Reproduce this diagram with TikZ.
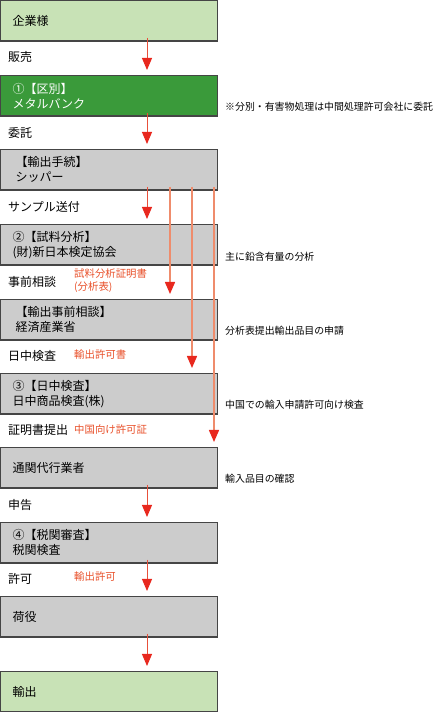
\documentclass[tikz,border=0pt]{standalone}
\usepackage{fontspec}
\setmainfont{Noto Sans CJK JP}
\usetikzlibrary{arrows.meta,calc}
\definecolor{lgreen}{HTML}{C8E2B6}
\definecolor{dgreen}{HTML}{3A9A3A}
\definecolor{boxgray}{HTML}{CCCCCC}
\definecolor{edge}{HTML}{454545}
\definecolor{arrowred}{HTML}{E8281E}
\definecolor{mainred}{HTML}{E8503A}
\definecolor{lineorange}{HTML}{EF8C6C}
\definecolor{labelred}{HTML}{E8502A}
\begin{document}
\begin{tikzpicture}[x=1pt,y=1pt,
  flowbox/.style={draw=edge, line width=1.1pt, fill=boxgray, anchor=north west,
    minimum height=40.5pt, inner xsep=12pt, inner ysep=0pt, text width=193pt,
    align=left, font=\fontsize{12}{15}\selectfont, text=black},
  widebox/.style={flowbox, inner xsep=15pt, text width=187pt},
  leftlabel/.style={anchor=west, inner sep=0pt, font=\fontsize{12}{14}\selectfont},
  redlabel/.style={anchor=west, inner sep=0pt, align=left, text=labelred, font=\fontsize{10.4}{13}\selectfont},
  note/.style={anchor=west, inner sep=0pt, font=\fontsize{9.9}{12}\selectfont},
  mainline/.style={draw=mainred, line width=0.9pt, -{Triangle[width=10pt,length=12pt,color=arrowred]}},
  longline/.style={draw=lineorange, line width=1.5pt, -{Triangle[width=10pt,length=12pt,color=arrowred]}}
]
\useasboundingbox (0,0) rectangle (434,712);

% boxes
\node[flowbox, fill=lgreen] (b1) at (0,712) {企業様};
\node[flowbox, fill=dgreen, text=white] (b2) at (0,637) {①【区別】\\メタルバンク};
\node[widebox] (b3) at (0,563) {【輸出手続】\\シッパー};
\node[flowbox] (b4) at (0,488) {②【試料分析】\\(財)新日本検定協会};
\node[widebox] (b5) at (0,413) {【輸出事前相談】\\経済産業省};
\node[flowbox] (b6) at (0,339) {③【日中検査】\\日中商品検査(株)};
\node[flowbox] (b7) at (0,265) {通関代行業者};
\node[flowbox] (b8) at (0,190) {④【税関審査】\\税関検査};
\node[flowbox] (b9) at (0,116) {荷役};
\node[flowbox, fill=lgreen] (b10) at (0,41) {輸出};

% left labels
\node[leftlabel] (l1) at (8,655) {販売};
\node[leftlabel] (l2) at (8,579) {委託};
\node[leftlabel] (l3) at (8,505) {サンプル送付};
\node[leftlabel] (l4) at (8,430) {事前相談};
\node[leftlabel] (l5) at (8,356) {日中検査};
\node[leftlabel] (l6) at (8,282) {証明書提出};
\node[leftlabel] (l7) at (8,207) {申告};
\node[leftlabel] (l8) at (8,133) {許可};

% red labels
\node[redlabel] (r1) at (74,431.5) {試料分析証明書\\(分析表)};
\node[redlabel] (r2) at (74,357) {輸出許可書};
\node[redlabel] (r3) at (74,282) {中国向け許可証};
\node[redlabel] (r4) at (74,135) {輸出許可};

% notes
\node[note] (n1) at (225,605) {※分別・有害物処理は中間処理許可会社に委託};
\node[note] (n2) at (225,455) {主に鉛含有量の分析};
\node[note] (n3) at (225,381) {分析表提出輸出品目の申請};
\node[note] (n4) at (225,307) {中国での輸入申請許可向け検査};
\node[note] (n5) at (225,233) {輸入品目の確認};

% main arrows
\draw[mainline] ($(b1.south west)+(147,4)$) -- ($(b2.north west)+(147,5)$);
\draw[mainline] ($(b2.south west)+(147,4)$) -- ($(b3.north west)+(147,5)$);
\draw[mainline] ($(b3.south west)+(147,4)$) -- ($(b4.north west)+(147,5)$);
\draw[mainline] ($(b7.south west)+(147,4)$) -- ($(b8.north west)+(147,5)$);
\draw[mainline] ($(b8.south west)+(147,4)$) -- ($(b9.north west)+(147,5)$);
\draw[mainline] ($(b9.south west)+(147,4)$) -- ($(b10.north west)+(147,5)$);

% long arrows from the shipper
\draw[longline] ($(b3.south west)+(170,4)$) -- ($(b5.north west)+(170,5)$);
\draw[longline] ($(b3.south west)+(192,4)$) -- ($(b6.north west)+(192,5)$);
\draw[longline] ($(b3.south west)+(214,4)$) -- ($(b7.north west)+(214,5)$);
\end{tikzpicture}
\end{document}
